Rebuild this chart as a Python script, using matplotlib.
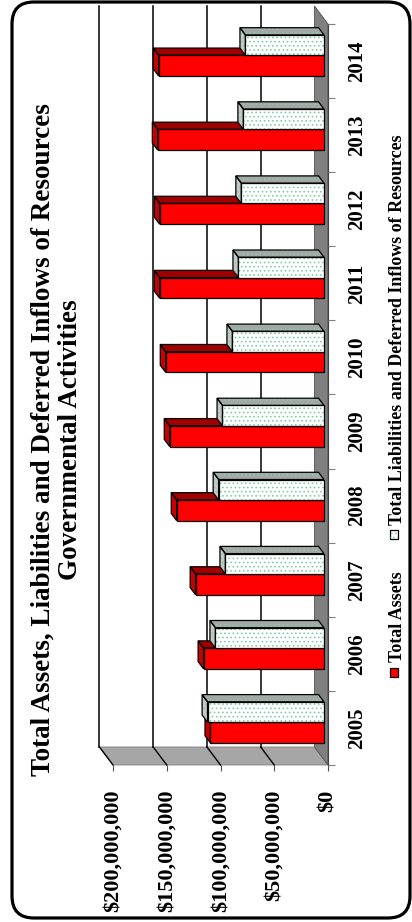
import matplotlib
matplotlib.use("Agg")
import matplotlib.pyplot as plt
from matplotlib.patches import Polygon, FancyBboxPatch, Rectangle

# ---- data -------------------------------------------------------------
years = ["2005", "2006", "2007", "2008", "2009", "2010", "2011", "2012", "2013", "2014"]
total_assets = [105.6e6, 112.0e6, 119.4e6, 137.0e6, 143.5e6, 147.2e6,
                152.8e6, 152.8e6, 154.6e6, 153.7e6]
total_liabilities = [108.3e6, 101.0e6, 91.7e6, 98.0e6, 94.4e6, 85.2e6,
                     79.6e6, 76.9e6, 75.0e6, 73.1e6]
value_ticks = [0, 50e6, 100e6, 150e6, 200e6]
series_names = ["Total Assets", "Total Liabilities and Deferred Inflows of Resources"]
title_lines = ["Total Assets, Liabilities and Deferred Inflows of Resources",
               "Governmental Activities"]

# ---- styling ----------------------------------------------------------
SERIF = "Liberation Serif"
plt.rcParams["font.family"] = [SERIF, "DejaVu Serif"]
plt.rcParams["hatch.linewidth"] = 0.7

W, H = 412, 922
fig = plt.figure(figsize=(W / 100, H / 100), dpi=100)
fig.patch.set_facecolor("white")

# full-figure layer in pixel units for the frame, title and legend
bg = fig.add_axes([0, 0, 1, 1])
bg.set_xlim(0, W)
bg.set_ylim(H, 0)
bg.axis("off")
bg.add_patch(FancyBboxPatch((12, 2), 398, 916,
                            boxstyle="round,pad=0,rounding_size=22",
                            fc="white", ec="black", lw=2.3))

# chart axes: value axis runs right-to-left, categories bottom-to-top
left_px, right_px, top_px, bottom_px = 113, 328, 24, 765
ax = fig.add_axes([left_px / W, (H - bottom_px) / H,
                   (right_px - left_px) / W, (bottom_px - top_px) / H])
ax.set_xlim(200e6, 0)
ax.set_ylim(0, len(years))
ax.patch.set_alpha(0)
for s in ax.spines.values():
    s.set_visible(False)

vmax = 200e6
dv = 12.6e6      # depth offset along the value axis
dy = 0.243       # depth offset along the category axis
n = len(years)

# back wall
ax.add_patch(Polygon([(dv, dy), (vmax + dv, dy), (vmax + dv, n + dy), (dv, n + dy)],
                     closed=True, fc="white", ec="none", zorder=1, clip_on=False))
# side floor (category start)
ax.add_patch(Polygon([(0, 0), (vmax, 0), (vmax + dv, dy), (dv, dy)],
                     closed=True, fc="#A6A6A6", ec="#808080", lw=0.6, zorder=1,
                     clip_on=False))
# base wall at $0
ax.add_patch(Polygon([(0, 0), (dv, dy), (dv, n + dy), (0, n)],
                     closed=True, fc="#808080", ec="#505050", lw=0.6, zorder=1,
                     clip_on=False))
ax.plot([0, 0], [0, n], color="#404040", lw=0.8, zorder=1.5, clip_on=False)

# gridlines on the back wall and across the side floor
for v in value_ticks[1:]:
    ax.plot([v + dv, v + dv], [dy, n + dy], color="black", lw=1.1, zorder=1.2,
            clip_on=False)
    ax.plot([v, v + dv], [0, dy], color="black", lw=1.0, zorder=1.2, clip_on=False)

# ---- 3-D bars ---------------------------------------------------------
d0, d1 = 0.3, 0.7


def bar3d(value, y0, y1, front, top, side, hatch=None, hatch_color=None, z=3):
    a0, b0 = d0 * dv, d0 * dy
    a1, b1 = d1 * dv, d1 * dy
    faces = [
        ([(a0, y1 + b0), (value + a0, y1 + b0), (value + a1, y1 + b1), (a1, y1 + b1)], top),
        ([(value + a0, y0 + b0), (value + a1, y0 + b1), (value + a1, y1 + b1),
          (value + a0, y1 + b0)], side),
        ([(a0, y0 + b0), (value + a0, y0 + b0), (value + a0, y1 + b0), (a0, y1 + b0)], front),
    ]
    for pts, col in faces:
        ax.add_patch(Polygon(pts, closed=True, fc=col, ec="none", zorder=z, clip_on=False))
        if hatch:
            ax.add_patch(Polygon(pts, closed=True, fill=False, ec=hatch_color, lw=0,
                                 hatch=hatch, zorder=z + 0.1, clip_on=False))
        ax.add_patch(Polygon(pts, closed=True, fill=False, ec="black", lw=0.9,
                             zorder=z + 0.2, clip_on=False))


DOT = "#7FCFA6"
for i in range(n):
    bar3d(total_assets[i], i + 0.225, i + 0.505,
          front="#FF0000", top="#A00000", side="#C80000", z=3)
    bar3d(total_liabilities[i], i + 0.505, i + 0.78,
          front="white", top="#A6A6A6", side="#C8C8C8",
          hatch="....", hatch_color=DOT, z=4)

# ---- axes ticks and labels --------------------------------------------
tick_font = dict(family=SERIF, weight="bold", size=16)
ax.set_xticks(value_ticks)
ax.set_xticklabels(["$0" if v == 0 else "${:,.0f}".format(v) for v in value_ticks],
                   rotation=90, **tick_font)
ax.tick_params(axis="x", length=4.3, width=0.8, color="#505050", pad=13.5)

ax.yaxis.set_ticks_position("right")
ax.set_yticks(range(n + 1))
ax.set_yticks([i + 0.5 for i in range(n)], minor=True)
ax.set_yticklabels([], minor=False)
ax.set_yticklabels(years, minor=True, rotation=90,
                   family=SERIF, weight="bold", size=15)
ax.tick_params(axis="y", which="major", right=True, left=False, length=5,
               width=0.8, color="#808080", labelright=False, labelleft=False)
ax.tick_params(axis="y", which="minor", right=True, left=False, length=0,
               pad=14, labelright=True, labelleft=False)
for lbl in ax.get_yticklabels(minor=True):
    lbl.set_va("center")

# ---- title ------------------------------------------------------------
bg.text(43, 440, title_lines[0], rotation=90, ha="center", va="center",
        family=SERIF, weight="bold", size=19.5)
bg.text(71, 440, title_lines[1], rotation=90, ha="center", va="center",
        family=SERIF, weight="bold", size=19.5)

# ---- legend -----------------------------------------------------------
leg_x = 398
bg.add_patch(Rectangle((390, 668), 8, 9, fc="#FF0000", ec="black", lw=0.9))
bg.text(leg_x, 662, series_names[0], rotation=90, ha="center", va="bottom",
        family=SERIF, weight="bold", size=13)
bg.add_patch(Rectangle((390, 530), 8, 9, fc="white", ec="black", lw=0.9))
bg.add_patch(Rectangle((390, 530), 8, 9, fill=False, ec=DOT, lw=0, hatch="...."))
bg.text(leg_x, 525, series_names[1], rotation=90, ha="center", va="bottom",
        family=SERIF, weight="bold", size=13)

fig.savefig("out.png", dpi=100, facecolor="white")
